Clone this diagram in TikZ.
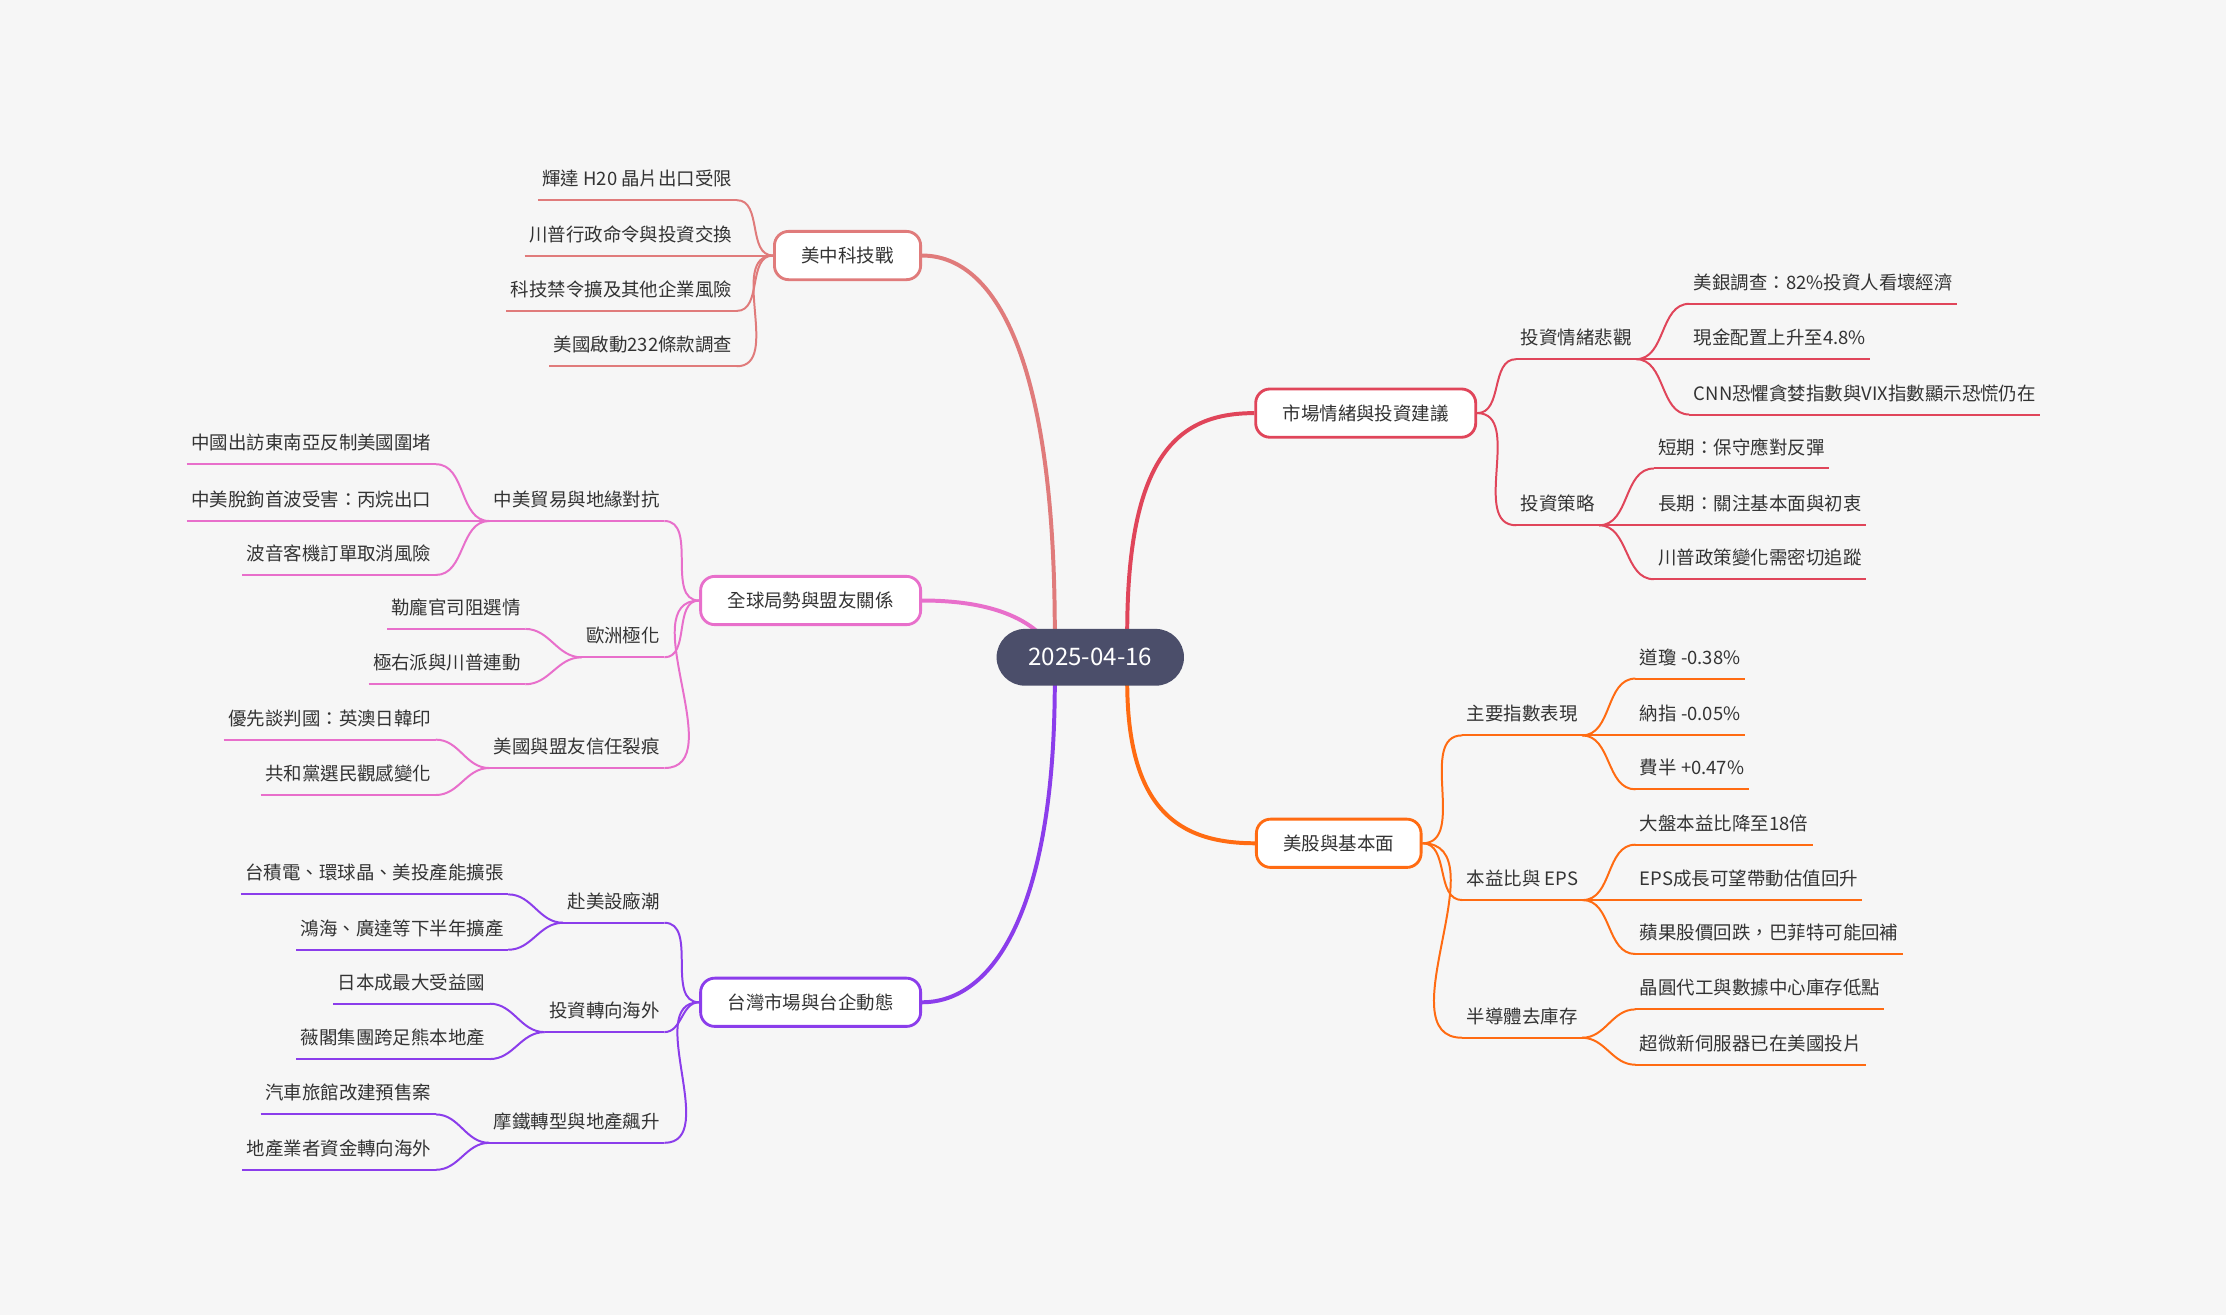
\documentclass[tikz,border=0pt]{standalone}
\usepackage{fontspec}
\setmainfont{Noto Sans CJK TC}
\definecolor{bg}{HTML}{F6F6F6}
\definecolor{txt}{HTML}{333333}
\definecolor{cc}{HTML}{4B4E6A}
\definecolor{ca}{HTML}{E07B7B}
\definecolor{cb}{HTML}{E86FCB}
\definecolor{cp}{HTML}{8B3DEB}
\definecolor{cr}{HTML}{E0455A}
\definecolor{co}{HTML}{FF6B12}
\tikzset{
 lf/.style={font=\fontsize{13}{15}\selectfont, text=txt, inner xsep=3pt, inner ysep=7pt, text height=10pt, text depth=3pt},
 mainbox/.style={font=\fontsize{13}{15}\selectfont, text=txt, fill=white, line width=2pt, rounded corners=10pt, inner xsep=19pt, minimum height=34pt},
 ln/.style={line width=1.4pt},
 bigln/.style={line width=2.8pt}
}
\newcommand\nR[6]{\node[lf,anchor=south west] (#1) at (#3,#4) {#5};
 \draw[#2,ln] (#1.south west)--(#1.south east);
 \draw[#2,ln] (#6) to[out=0,in=180] (#1.south west);}
\newcommand\nL[6]{\node[lf,anchor=south east] (#1) at (#3,#4) {#5};
 \draw[#2,ln] (#1.south west)--(#1.south east);
 \draw[#2,ln] (#6) to[out=180,in=0] (#1.south east);}
\begin{document}
\begin{tikzpicture}[x=1pt,y=-1pt]
\fill[bg] (0,0) rectangle (1568,926);
\useasboundingbox (0,0) rectangle (1568,926);
% main nodes
\node[mainbox,draw=ca] (m1) at (597,180) {美中科技戰};
\node[mainbox,draw=cb] (m2) at (571,423) {全球局勢與盟友關係};
\node[mainbox,draw=cp] (m3) at (571,706) {台灣市場與台企動態};
\node[mainbox,draw=cr] (m4) at (962,291) {市場情緒與投資建議};
\node[mainbox,draw=co] (m5) at (943,594) {美股與基本面};
% center edges
\coordinate (c1) at (743,446);
\coordinate (c2) at (732,446);
\coordinate (c3) at (794,446);
\coordinate (c4) at (794,480);
\coordinate (c5) at (743,480);
\draw[ca,bigln] (c1) .. controls (743,250) and (700,180) .. (m1.east);
\draw[cb,bigln] (c2) .. controls (712,428) and (680,423) .. (m2.east);
\draw[cr,bigln] (c3) .. controls (794,320) and (830,291) .. (m4.west);
\draw[co,bigln] (c4) .. controls (794,570) and (830,594) .. (m5.west);
\draw[cp,bigln] (c5) .. controls (743,640) and (700,706) .. (m3.east);
\node[fill=cc, text=white, rounded corners=20pt, minimum width=132pt, minimum height=40pt, font=\fontsize{17}{20}\selectfont] (c) at (768,463) {2025-04-16};
% 美中科技戰
\nL{a1}{ca}{519}{141}{輝達 H20 晶片出口受限}{m1.west}
\nL{a2}{ca}{519}{180}{川普行政命令與投資交換}{m1.west}
\nL{a3}{ca}{519}{219}{科技禁令擴及其他企業風險}{m1.west}
\nL{a4}{ca}{519}{258}{美國啟動232條款調查}{m1.west}
% 全球
\nL{b1}{cb}{468}{367}{中美貿易與地緣對抗}{m2.west}
\nL{b11}{cb}{307}{327}{中國出訪東南亞反制美國圍堵}{b1.south west}
\nL{b12}{cb}{307}{367}{中美脫鉤首波受害：丙烷出口}{b1.south west}
\nL{b13}{cb}{307}{405}{波音客機訂單取消風險}{b1.south west}
\nL{b2}{cb}{468}{463}{歐洲極化}{m2.west}
\nL{b21}{cb}{370}{443}{勒龐官司阻選情}{b2.south west}
\nL{b22}{cb}{370}{482}{極右派與川普連動}{b2.south west}
\nL{b3}{cb}{468}{541}{美國與盟友信任裂痕}{m2.west}
\nL{b31}{cb}{307}{521}{優先談判國：英澳日韓印}{b3.south west}
\nL{b32}{cb}{307}{560}{共和黨選民觀感變化}{b3.south west}
% 台灣
\nL{p1}{cp}{468}{650}{赴美設廠潮}{m3.west}
\nL{p11}{cp}{358}{630}{台積電、環球晶、美投產能擴張}{p1.south west}
\nL{p12}{cp}{358}{669}{鴻海、廣達等下半年擴產}{p1.south west}
\nL{p2}{cp}{468}{727}{投資轉向海外}{m3.west}
\nL{p21}{cp}{345}{707}{日本成最大受益國}{p2.south west}
\nL{p22}{cp}{345}{746}{薇閣集團跨足熊本地產}{p2.south west}
\nL{p3}{cp}{468}{805}{摩鐵轉型與地產飆升}{m3.west}
\nL{p31}{cp}{307}{785}{汽車旅館改建預售案}{p3.south west}
\nL{p32}{cp}{307}{824}{地產業者資金轉向海外}{p3.south west}
% 市場情緒
\nR{r1}{cr}{1068}{253}{投資情緒悲觀}{m4.east}
\nR{r11}{cr}{1190}{214}{美銀調查：82\%投資人看壞經濟}{r1.south east}
\nR{r12}{cr}{1190}{253}{現金配置上升至4.8\%}{r1.south east}
\nR{r13}{cr}{1190}{292}{CNN恐懼貪婪指數與VIX指數顯示恐慌仍在}{r1.south east}
\nR{r2}{cr}{1068}{370}{投資策略}{m4.east}
\nR{r21}{cr}{1165}{330}{短期：保守應對反彈}{r2.south east}
\nR{r22}{cr}{1165}{370}{長期：關注基本面與初衷}{r2.south east}
\nR{r23}{cr}{1165}{408}{川普政策變化需密切追蹤}{r2.south east}
% 美股
\nR{o1}{co}{1030}{518}{主要指數表現}{m5.east}
\nR{o11}{co}{1152}{478}{道瓊 -0.38\%}{o1.south east}
\nR{o12}{co}{1152}{518}{納指 -0.05\%}{o1.south east}
\nR{o13}{co}{1152}{556}{費半 +0.47\%}{o1.south east}
\nR{o2}{co}{1030}{634}{本益比與 EPS}{m5.east}
\nR{o21}{co}{1152}{595}{大盤本益比降至18倍}{o2.south east}
\nR{o22}{co}{1152}{634}{EPS成長可望帶動估值回升}{o2.south east}
\nR{o23}{co}{1152}{672}{蘋果股價回跌，巴菲特可能回補}{o2.south east}
\nR{o3}{co}{1030}{731}{半導體去庫存}{m5.east}
\nR{o31}{co}{1152}{711}{晶圓代工與數據中心庫存低點}{o3.south east}
\nR{o32}{co}{1152}{750}{超微新伺服器已在美國投片}{o3.south east}
\end{tikzpicture}
\end{document}
